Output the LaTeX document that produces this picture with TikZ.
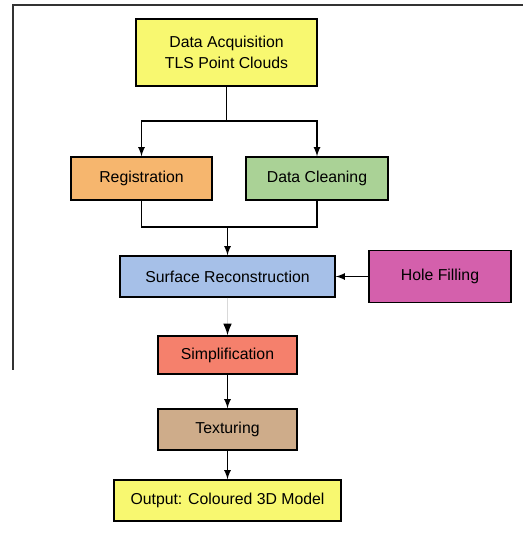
\documentclass[tikz,border=0pt]{standalone}
\usepackage{fontspec}
\setmainfont{Liberation Sans}
\usepackage{tikz}
\tikzset{>=latex}
\usetikzlibrary{arrows,arrows.meta}

\definecolor{acqyellow}{RGB}{248,248,112}
\definecolor{regorange}{RGB}{246,182,110}
\definecolor{cleangreen}{RGB}{170,210,150}
\definecolor{surfblue}{RGB}{166,192,232}
\definecolor{holepink}{RGB}{212,96,172}
\definecolor{simpred}{RGB}{245,128,108}
\definecolor{textan}{RGB}{206,172,138}

\tikzset{
  stage/.style={draw=black,line width=0.8pt,align=center,inner sep=0pt,
    font=\fontsize{9}{12}\selectfont},
}

\begin{document}
\begin{tikzpicture}
       \useasboundingbox (0,0) rectangle (10.46,-11);
       \draw[line width=0.9pt,black!80] (10.46,-0.1) -- (0.26,-0.1) -- (0.26,-7.4);
       \node[stage,fill=acqyellow,minimum width=3.62cm,minimum height=1.34cm] (acq) at (4.53,-1.05) {Data Acquisition\\TLS Point Clouds};
       \node[stage,fill=regorange,minimum width=2.82cm,minimum height=0.86cm] (reg) at (2.83,-3.57) {Registration};
       \node[stage,fill=cleangreen,minimum width=2.84cm,minimum height=0.86cm] (clean) at (6.34,-3.57) {Data Cleaning};
       \node[stage,fill=surfblue,minimum width=4.3cm,minimum height=0.82cm] (surf) at (4.55,-5.53) {Surface Reconstruction};
       \node[stage,fill=holepink,minimum width=2.84cm,minimum height=1.04cm] (hole) at (8.8,-5.53) {Hole Filling};
       \node[stage,fill=simpred,minimum width=2.78cm,minimum height=0.76cm] (simp) at (4.55,-7.1) {Simplification};
       \node[stage,fill=textan,minimum width=2.78cm,minimum height=0.82cm] (tex) at (4.55,-8.59) {Texturing};
       \node[stage,fill=acqyellow,minimum width=4.54cm,minimum height=0.82cm] (out) at (4.55,-10.01) {Output: Coloured 3D Model};
       \coordinate (split) at (4.53,-2.42);
       \coordinate (merge) at (4.55,-4.54);
       \draw[line width=0.8pt] (acq.south) -- (split);
       \draw[line width=0.8pt,->] (split) -| (reg.north);
       \draw[line width=0.8pt,->] (split) -| (clean.north);
       \draw[line width=0.8pt] (reg.south) |- (merge) -| (clean.south);
       \draw[line width=0.8pt,->] (merge) -- (surf.north);
       \draw[line width=0.8pt,->] (hole.west) -- (surf.east);
       \draw[line width=0.8pt,black!15,-{Latex[black]}] (surf.south) -- (simp.north);
       \draw[line width=0.8pt,->] (simp.south) -- (tex.north);
       \draw[line width=0.8pt,->] (tex.south) -- (out.north);
      \end{tikzpicture}
\end{document}
